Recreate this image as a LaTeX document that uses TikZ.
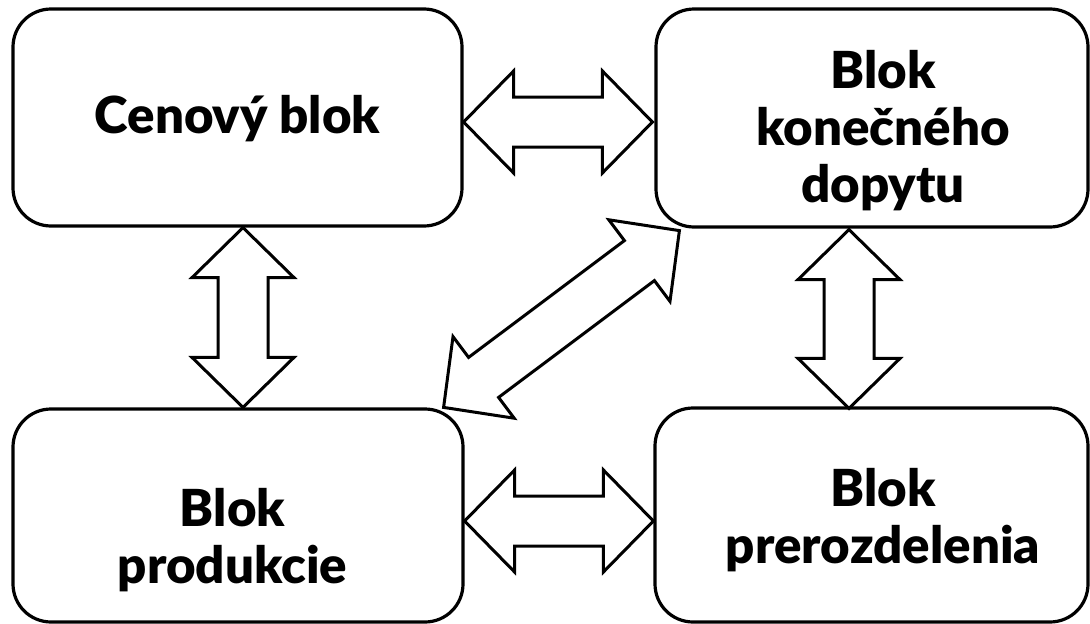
\documentclass[tikz,border=0pt]{standalone}
\usepackage{fontspec}
\setmainfont{Lato}[BoldFont={Lato Black}]
\usetikzlibrary{calc}

% double block arrow from #1 to #2, #3 is a name prefix
\newcommand{\dvojsipka}[3]{%
  \path ($(#1)!50pt!(#2)$) coordinate (#3a) ($(#2)!50pt!(#1)$) coordinate (#3b);
  \draw [sipka] (#1) -- ($(#3a)!51pt!90:(#2)$) -- ($(#3a)!25pt!90:(#2)$)
    -- ($(#3b)!25pt!-90:(#1)$) -- ($(#3b)!51pt!-90:(#1)$) -- (#2)
    -- ($(#3b)!51pt!90:(#1)$) -- ($(#3b)!25pt!90:(#1)$)
    -- ($(#3a)!25pt!-90:(#2)$) -- ($(#3a)!51pt!-90:(#2)$) -- cycle;
}

\begin{document}
\begin{tikzpicture}[
    x=1pt, y=-1pt,
    blok/.style={draw, line width=3.2pt, rounded corners=38pt, inner sep=0pt},
    sipka/.style={draw, line width=3pt, fill=white},
    popis/.style={font=\fontsize{51}{57}\selectfont\bfseries, align=center, anchor=base}
  ]
  \useasboundingbox (0,0) rectangle (1090,624);

  % blocks
  \node [blok, minimum width=449pt, minimum height=217pt] (cen) at (237.5,117.5) {};
  \node [blok, minimum width=432pt, minimum height=218pt] (kon) at (872,118) {};
  \node [blok, minimum width=450pt, minimum height=213pt] (pro) at (238,515.5) {};
  \node [blok, minimum width=433pt, minimum height=214pt] (pre) at (871.5,515) {};

  % texts (base = last line)
  \node [popis] (cenT) at (237.5,133) {Cenový blok};
  \node [popis] (konT) at (883,202) {Blok\\konečného\\dopytu};
  \node [popis] (proT) at (232.5,583) {Blok\\produkcie};
  \node [popis] (preT) at (883,563) {Blok\\prerozdelenia};

  % arrow ends
  \coordinate (c1) at ($(cen.east)+(0,4.5)$);
  \coordinate (k1) at ($(kon.west)+(-2,4)$);
  \coordinate (c2) at ($(cen.south)+(5.5,0)$);
  \coordinate (p1) at ($(pro.north)+(5,0)$);
  \coordinate (k2) at ($(kon.south)+(-23,1)$);
  \coordinate (r1) at ($(pre.north)+(-22.5,2)$);
  \coordinate (p2) at ($(pro.east)+(0,5.5)$);
  \coordinate (r2) at ($(pre.west)+(0,6)$);
  \coordinate (p3) at ($(pro.north east)+(-21,0)$);
  \coordinate (k3) at ($(kon.south west)+(25,2)$);

  % arrows
  \dvojsipka{c1}{k1}{s1}
  \dvojsipka{c2}{p1}{s2}
  \dvojsipka{k2}{r1}{s3}
  \dvojsipka{p2}{r2}{s4}
  \dvojsipka{p3}{k3}{s5}
\end{tikzpicture}
\end{document}
